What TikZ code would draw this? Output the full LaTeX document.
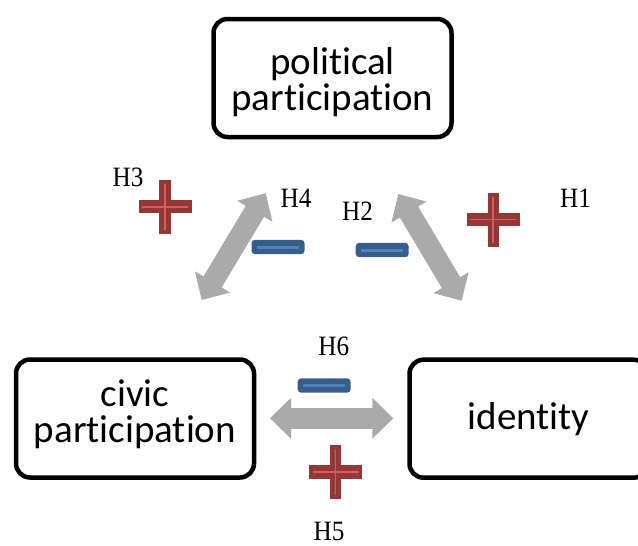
\documentclass[tikz,border=0pt]{standalone}
\usepackage{fontspec}
\setmainfont{Carlito}[Ligatures=NoCommon]
\newfontfamily\labfont[FakeStretch=0.9]{Liberation Serif}
\usetikzlibrary{arrows.meta}
\definecolor{arrowgray}{RGB}{170,170,170}
\definecolor{plusdark}{RGB}{149,55,53}
\definecolor{pluslight}{RGB}{210,95,92}
\definecolor{minusdark}{RGB}{56,93,138}
\definecolor{minuslight}{RGB}{79,129,189}
\begin{document}
\begin{tikzpicture}[x=1pt,y=-1pt,
  box/.style={draw=black, line width=4.5pt, rounded corners=14pt,
    minimum width=238pt, minimum height=118pt, inner sep=0pt, align=center,
    font=\fontsize{39}{36}\selectfont},
  hlabel/.style={anchor=base, inner sep=0pt, font=\labfont\fontsize{28}{28}\selectfont},
  dbl/.style={line width=21pt, draw=arrowgray,
    {Triangle[width=41pt,length=21pt,line width=0pt]}-{Triangle[width=41pt,length=21pt,line width=0pt]}},
  shaft/.style={line width=21pt, draw=arrowgray, shorten <=12pt, shorten >=12pt},
  plussign/.pic={
    \fill[plusdark] (-26.5,-6.7) rectangle (26.5,6.7);
    \fill[plusdark] (-5.7,-27) rectangle (5.7,27);
    \draw[pluslight, line width=1.8pt] (-23,0) -- (23,0) (0,-23) -- (0,23);
  },
  minussign/.pic={
    \fill[minusdark, rounded corners=3.5pt] (-26.5,-7.2) rectangle (26.5,7.2);
    \draw[minuslight, line width=3pt] (-21,0) -- (21,0);
  }]
\useasboundingbox (0,0) rectangle (638,546);
\clip (0,0) rectangle (638,546);

\node[box] (pol) at (332.5,78) {\rule{0pt}{35pt}political\\participation};
\node[box] (civ) at (135,418.5) {civic\\participation\rule[-14pt]{0pt}{14pt}};
\node[box] (ide) at (528.5,418.7) {identity};

\coordinate (l1) at (201.7,300);
\coordinate (l2) at (265.7,193.3);
\coordinate (r1) at (398.3,194);
\coordinate (r2) at (461.7,300.7);
\coordinate (h1) at (270,418.3);
\coordinate (h2) at (393.3,418.3);
\draw[dbl] (l1) -- (l2);
\draw[shaft] (l1) -- (l2);
\draw[dbl] (r1) -- (r2);
\draw[shaft] (r1) -- (r2);
\draw[dbl] (h1) -- (h2);
\draw[shaft] (h1) -- (h2);

\pic (p3) at (165,206.7) {plussign};
\pic (p1) at (493.3,219.5) {plussign};
\pic (p5) at (335.5,472) {plussign};
\pic (m4) at (278,247) {minussign};
\pic (m2) at (382.2,250) {minussign};
\pic (m6) at (324.2,385.5) {minussign};

\node[hlabel] (H3) at (128,186) {H3};
\node[hlabel] (H4) at (296,207.3) {H4};
\node[hlabel] (H2) at (357.5,220.7) {H2};
\node[hlabel] (H1) at (575.5,207.7) {H1};
\node[hlabel] (H6) at (333.8,355.7) {H6};
\node[hlabel] (H5) at (329,540.5) {H5};
\end{tikzpicture}
\end{document}
